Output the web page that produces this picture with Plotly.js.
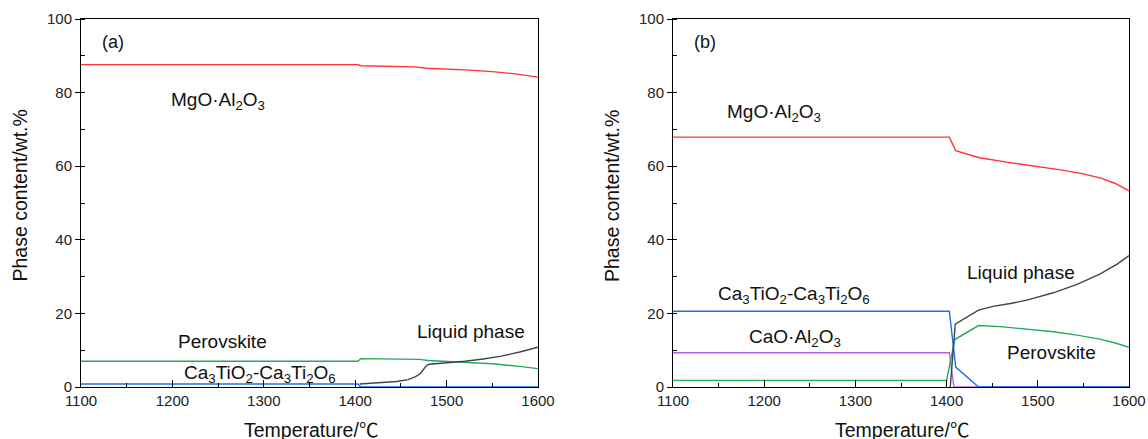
<!DOCTYPE html>
<html>
<head>
<meta charset="utf-8">
<script src="https://cdn.plot.ly/plotly-3.0.1.min.js"></script>
<style>html,body{margin:0;padding:0;background:#fff;}#chart{width:1148px;height:439px;}</style>
</head>
<body>
<div id="chart"></div>
<script>
// ---- Panel (a) data ----
var a_T_mgo = [1100, 1403, 1406, 1440, 1465, 1478, 1500, 1525, 1550, 1575, 1600];
var a_mgo   = [87.6, 87.6, 87.3, 87.2, 87.0, 86.6, 86.4, 86.1, 85.7, 85.1, 84.2];
var a_T_per = [1100, 1403, 1406, 1450, 1470, 1480, 1500, 1520, 1550, 1580, 1600];
var a_per   = [7.0, 7.0, 7.7, 7.7, 7.5, 7.2, 7.0, 6.8, 6.3, 5.6, 5.0];
var a_T_liq = [1405, 1425, 1445, 1458, 1466, 1471, 1475, 1478, 1481, 1500, 1520, 1540, 1560, 1580, 1600];
var a_liq   = [0.8, 1.1, 1.5, 2.0, 2.8, 3.6, 4.8, 5.8, 6.2, 6.5, 7.0, 7.6, 8.4, 9.5, 10.8];
var a_T_ct  = [1100, 1403, 1406, 1600];
var a_ct    = [0.8, 0.8, 0, 0];

// ---- Panel (b) data ----
var b_T_mgo = [1100, 1403, 1410, 1436, 1466, 1500, 1525, 1550, 1570, 1585, 1600];
var b_mgo   = [67.9, 67.9, 64.2, 62.3, 61.1, 59.9, 59.0, 57.9, 56.7, 55.3, 53.3];
var b_T_ct  = [1100, 1403, 1410, 1435, 1600];
var b_ct    = [20.6, 20.6, 5.4, 0, 0];
var b_T_ca  = [1100, 1403, 1408, 1600];
var b_ca    = [9.3, 9.3, 0, 0];
var b_T_per = [1100, 1400, 1409, 1435, 1459, 1488, 1517, 1543, 1568, 1586, 1600];
var b_per   = [1.8, 1.8, 12.9, 16.7, 16.4, 15.7, 15.0, 14.1, 13.0, 11.9, 10.8];
var b_T_liq = [1404, 1409.5, 1435, 1451, 1470, 1488, 1517, 1543, 1568, 1587, 1600];
var b_liq   = [0, 17.1, 20.9, 21.9, 22.7, 23.6, 25.6, 27.9, 30.7, 33.4, 35.7];

// ---- labels ----
var xTicks = [1100, 1200, 1300, 1400, 1500, 1600];
var yTicks = [0, 20, 40, 60, 80, 100];
var xTitle = "Temperature/℃";
var yTitle = "Phase content/wt.%";

var RED = '#ff3333', GREEN = '#22aa5e', BLUE = '#1f6ef0', PURPLE = '#b45ef5', BLACK = '#444444';
var FONT = 'Liberation Sans, Arial, Noto Sans CJK SC, sans-serif';

function tr(x, y, c, xa, ya) {
  return {x: x, y: y, mode: 'lines', type: 'scatter', line: {color: c, width: 1.4},
          xaxis: xa, yaxis: ya, showlegend: false, hoverinfo: 'skip'};
}
var data = [
  tr(a_T_mgo, a_mgo, RED, 'x', 'y'),
  tr(a_T_per, a_per, GREEN, 'x', 'y'),
  tr(a_T_liq, a_liq, BLACK, 'x', 'y'),
  tr(a_T_ct, a_ct, BLUE, 'x', 'y'),
  tr(b_T_mgo, b_mgo, RED, 'x2', 'y2'),
  tr(b_T_ca, b_ca, PURPLE, 'x2', 'y2'),
  tr(b_T_per, b_per, GREEN, 'x2', 'y2'),
  tr(b_T_ct, b_ct, BLUE, 'x2', 'y2'),
  tr(b_T_liq, b_liq, BLACK, 'x2', 'y2')
];

function xax(dom, anchor) {
  return {domain: dom, anchor: anchor, range: [1100, 1600], tickvals: xTicks, ticktext: xTicks.map(String),
    ticks: 'inside', ticklen: 7, tickwidth: 1, tickcolor: '#000',
    minor: {dtick: 50, tick0: 1100, ticks: 'inside', ticklen: 4, tickcolor: '#000'},
    showline: true, linecolor: '#000', linewidth: 1, mirror: true, showgrid: false, zeroline: false,
    tickfont: {family: FONT, size: 15, color: '#222'}, fixedrange: true};
}
function yax(anchor) {
  return {domain: [0, 1], anchor: anchor, range: [0, 100], tickvals: yTicks, ticktext: yTicks.map(String),
    ticks: 'outside', ticklen: 5, tickwidth: 1, tickcolor: '#000',
    minor: {dtick: 10, tick0: 0, ticks: 'inside', ticklen: 4, tickcolor: '#000'},
    showline: true, linecolor: '#000', linewidth: 1, mirror: true, showgrid: false, zeroline: false,
    tickfont: {family: FONT, size: 15, color: '#222'}, fixedrange: true};
}

function lab(text, x, y, xr, yr, size) {
  return {text: text, x: x, y: y, xref: xr, yref: yr, xanchor: 'left', yanchor: 'middle',
          showarrow: false, font: {family: FONT, size: size || 19, color: '#111'}};
}
function ttl(text, x, y, angle) {
  return {text: text, x: x, y: y, xref: 'paper', yref: 'paper', xanchor: 'center', yanchor: 'middle',
          textangle: angle, showarrow: false, font: {family: FONT, size: 19.5, color: '#111'}};
}

var annotations = [
  lab('(a)', 1120.8, 93.8, 'x', 'y', 18),
  lab('MgO·Al<sub>2</sub>O<sub>3</sub>', 1196.5, 77.7, 'x', 'y'),
  lab('Perovskite', 1204, 12.5, 'x', 'y'),
  lab('Ca<sub>3</sub>TiO<sub>2</sub>-Ca<sub>3</sub>Ti<sub>2</sub>O<sub>6</sub>', 1211, 3.4, 'x', 'y'),
  lab('Liquid phase', 1465, 15.1, 'x', 'y'),
  lab('(b)', 1120.8, 93.7, 'x2', 'y2', 18),
  lab('MgO·Al<sub>2</sub>O<sub>3</sub>', 1157, 74.4, 'x2', 'y2'),
  lab('Ca<sub>3</sub>TiO<sub>2</sub>-Ca<sub>3</sub>Ti<sub>2</sub>O<sub>6</sub>', 1147.5, 24.9, 'x2', 'y2'),
  lab('CaO·Al<sub>2</sub>O<sub>3</sub>', 1181, 13.45, 'x2', 'y2'),
  lab('Liquid phase', 1420, 31.1, 'x2', 'y2'),
  lab('Perovskite', 1464, 9.5, 'x2', 'y2'),
  ttl(xTitle, 311 / 1148, (387 - 430) / 368, 0),
  ttl(xTitle, 902 / 1148, (387 - 430) / 368, 0),
  ttl(yTitle, 19 / 1148, (387 - 195.5) / 368, -90),
  ttl(yTitle, 612 / 1148, (387 - 196) / 368, -90)
];

var layout = {
  width: 1148, height: 439,
  margin: {l: 0, r: 0, t: 19, b: 52, pad: 0},
  paper_bgcolor: '#fff', plot_bgcolor: '#fff',
  xaxis: xax([81 / 1148, 538 / 1148], 'y'),
  yaxis: yax('x'),
  xaxis2: xax([673 / 1148, 1129 / 1148], 'y2'),
  yaxis2: yax('x2'),
  annotations: annotations,
  font: {family: FONT}
};

Plotly.newPlot('chart', data, layout, {staticPlot: true, displayModeBar: false});
</script>
</body>
</html>
